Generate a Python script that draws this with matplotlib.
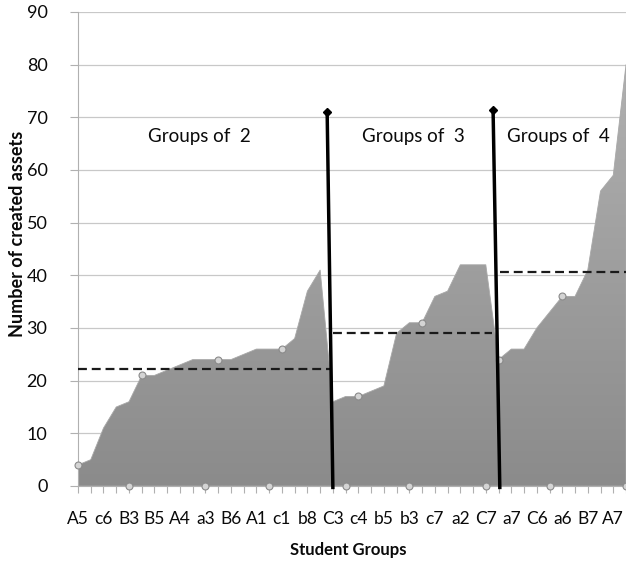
import numpy as np
import matplotlib
matplotlib.use("Agg")
import matplotlib.pyplot as plt
from matplotlib.colors import LinearSegmentedColormap

# ---------------- data ----------------
tick_labels = ["A5", "c6", "B3", "B5", "A4", "a3", "B6", "A1", "c1", "b8", "C3",
               "c4", "b5", "b3", "c7", "a2", "C7", "a7", "C6", "a6", "B7", "A7"]

group2_values = [4, 5, 11, 15, 16, 21, 21, 22, 23, 24, 24, 24, 24, 25, 26, 26, 26, 28, 37, 41]
group3_values = [16, 17, 17, 18, 19, 29, 31, 31, 36, 37, 42, 42, 42]
group4_values = [24, 26, 26, 30, 33, 36, 36, 41, 56, 59, 80]

group_titles = ["Groups of  2", "Groups of  3", "Groups of  4"]

top_marker_idx = [0, 5, 11, 16, 22, 27, 33, 38]
bottom_marker_idx = [4, 10, 15, 21, 26, 32, 37, 43]

divider_top = [(19.55, 71.0), (32.57, 71.4)]
divider_bottom = [20.0, 33.1]

# ---------------- figure ----------------
plt.rcParams['font.family'] = ['Lato', 'DejaVu Sans']
fig = plt.figure(figsize=(6.26, 5.65), dpi=100)
ax = fig.add_axes([78/626, 1-486/565, 1-78/626, (486-12)/565])

values = np.array(group2_values + group3_values + group4_values, dtype=float)
n = len(values)
x = np.arange(n)

# gradient area
poly = ax.fill_between(x, 0, values, facecolor='none', edgecolor='#a8a8a8', linewidth=0.6, zorder=2)
cmap = LinearSegmentedColormap.from_list('g', ['#8b8b8b', '#b5b5b5'])
grad = np.linspace(0, 1, 256).reshape(-1, 1)
im = ax.imshow(grad, extent=[0, n-1, 0, 90], origin='lower', aspect='auto',
               cmap=cmap, zorder=1.5, interpolation='bilinear')
path = poly.get_paths()[0]
im.set_clip_path(path, transform=ax.transData)

# grid
for v in range(10, 91, 10):
    ax.axhline(v, color='#c8c8c8', linewidth=0.9, zorder=1)

# group means (dashed)
bounds = [(0, len(group2_values)), (len(group2_values), len(group2_values)+len(group3_values)),
          (len(group2_values)+len(group3_values), n)]
x_starts = [0, divider_bottom[0], divider_bottom[1]]
x_ends = [divider_bottom[0] - 0.15, divider_top[1][0] - 0.05, n - 1]
for (a, b), xs, xe in zip(bounds, x_starts, x_ends):
    m = values[a:b].mean()
    ax.plot([xs, xe], [m, m], linestyle=(0, (4, 2.2)), color='#1a1a1a', linewidth=1.6, zorder=4)

# dividers
for (tx, ty), bx in zip(divider_top, divider_bottom):
    ax.plot([tx, bx], [ty, -0.6], color='black', linewidth=2.5, zorder=5, clip_on=False,
            solid_capstyle='butt')
    ax.plot([tx], [ty], marker='D', markersize=4, color='black', zorder=6)

# markers
ax.plot(top_marker_idx, values[top_marker_idx], linestyle='none', marker='o', markersize=5,
        markerfacecolor='#d4d4d4', markeredgecolor='#8a8a8a', markeredgewidth=0.8, zorder=4,
        clip_on=False)
ax.plot(bottom_marker_idx, np.zeros(len(bottom_marker_idx)), linestyle='none', marker='o',
        markersize=5, markerfacecolor='#d4d4d4', markeredgecolor='#8a8a8a',
        markeredgewidth=0.8, zorder=4, clip_on=False)

# group titles
title_x = [9.5, 26.3, 37.7]
for t, tx in zip(group_titles, title_x):
    ax.text(tx, 66.3, t, ha='center', va='center', fontsize=13.5, color='#0a0a0a', zorder=6)

# axes
ax.set_xlim(0, n - 1)
ax.set_ylim(0, 90)
ax.set_yticks(range(0, 91, 10))
ax.set_xticks(np.arange(0, n, 2))
ax.set_xticklabels(tick_labels)
ax.set_xticks(x, minor=True)
ax.tick_params(axis='x', which='both', length=5, color='#b0b0b0', width=0.8, pad=13,
               labelsize=12.5, labelcolor='#0a0a0a')
ax.tick_params(axis='y', length=6, color='#b0b0b0', width=0.8, pad=16, labelsize=13,
               labelcolor='#0a0a0a')
for s in ['top', 'right']:
    ax.spines[s].set_visible(False)
ax.spines['left'].set_color('#b0b0b0')
ax.spines['bottom'].set_color('#b0b0b0')
ax.spines['left'].set_zorder(3)

fig.text(18/626, 1-234/565, "Number of created assets", rotation=90, ha='center', va='center',
         fontsize=13, fontweight='bold', color='#0a0a0a')
fig.text(348/626, 1-550/565, "Student Groups", ha='center', va='center',
         fontsize=12, fontweight='bold', color='#0a0a0a')

fig.savefig("out.png", dpi=100)
